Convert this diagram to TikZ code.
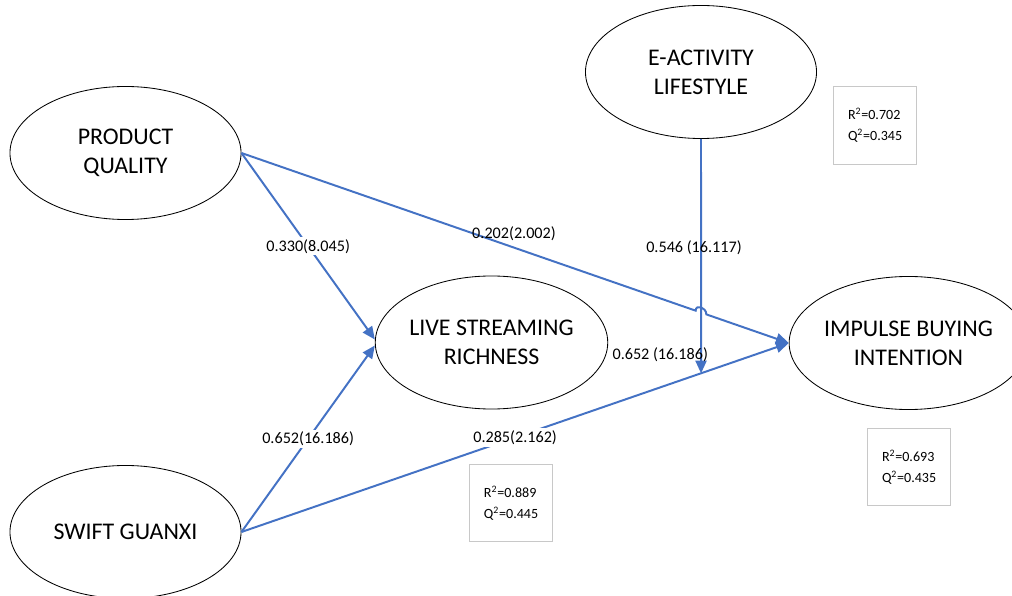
\documentclass[tikz,border=0pt]{standalone}
\usepackage{fontspec}
\setmainfont{Carlito}
\usepackage{tikz}
\usetikzlibrary{arrows.meta,positioning,calc,shapes.geometric}
\definecolor{cLink}{HTML}{4472C4}
\definecolor{cFrame}{HTML}{C8C8C8}

\begin{document}
\begin{tikzpicture}[
    x=0.025cm, y=-0.025cm,
    construct/.style={ellipse, draw, line width=0.6pt, minimum width=5.775cm,
      minimum height=3.325cm, inner sep=0pt, align=center,
      font=\fontsize{17}{20.5}\selectfont},
    fitbox/.style={rectangle, draw=cFrame, line width=0.7pt, text width=1.325cm,
      inner xsep=0.375cm, inner ysep=0pt, minimum height=1.925cm, align=left,
      font=\fontsize{10}{15}\selectfont},
    flow/.style={-{Triangle[length=3.2mm,width=2.8mm]}, line width=1.4pt, draw=cLink},
    lbl/.style={font=\fontsize{11.5}{14}\selectfont, inner sep=1.5pt},
    cut/.style={lbl, fill=white}]

    \useasboundingbox (0,0) rectangle (1012,596);

    \node[construct] (pq)  at (125.5,153)   {PRODUCT\\QUALITY};
    \node[construct] (sg)  at (125.5,532)   {SWIFT GUANXI};
    \node[construct] (lsr) at (491.5,342.5) {LIVE STREAMING\\RICHNESS};
    \node[construct] (eal) at (701,72)      {E-ACTIVITY\\LIFESTYLE};
    \node[construct] (ibi) at (908.5,343)   {IMPULSE BUYING\\INTENTION};

    \node[fitbox] (fitEal) at (874.5,125.5) {R\textsuperscript{2}=0.702\\Q\textsuperscript{2}=0.345};
    \node[fitbox] (fitLsr) at (510.5,503)   {R\textsuperscript{2}=0.889\\Q\textsuperscript{2}=0.445};
    \node[fitbox, below=4.6mm of ibi] (fitIbi) {R\textsuperscript{2}=0.693\\Q\textsuperscript{2}=0.435};

    \coordinate (ealfoot) at ($(eal.south)+(0,400)$);
    \coordinate (hop)  at (intersection of pq.east--ibi.west and eal.south--ealfoot);
    \coordinate (meet) at (intersection of sg.east--ibi.west and eal.south--ealfoot);

    \draw[flow] (pq.east) -- node[cut]{0.330(8.045)} ($(lsr.west)+(0,-3)$);
    \draw[flow] (sg.east) -- node[cut]{0.652(16.186)} ($(lsr.west)+(0,3)$);
    \draw[flow] (pq.east) -- node[lbl, pos=0.6, above=3pt]{0.202(2.002)} ($(hop)!4pt!(pq.east)$)
      .. controls +(0,-7) and +(0,-7) .. ($(hop)!4pt!(ibi.west)$) -- (ibi.west);
    \draw[flow] (sg.east) -- node[cut]{0.285(2.162)} (ibi.west);
    \draw[flow] (eal.south) -- node[lbl, pos=0.465, xshift=-5pt]{0.546 (16.117)} (meet);

    \node[lbl, anchor=west] (lsrIbi) at ($(lsr.east)+(2,12)$) {0.652 (16.186)};
  \end{tikzpicture}
\end{document}
